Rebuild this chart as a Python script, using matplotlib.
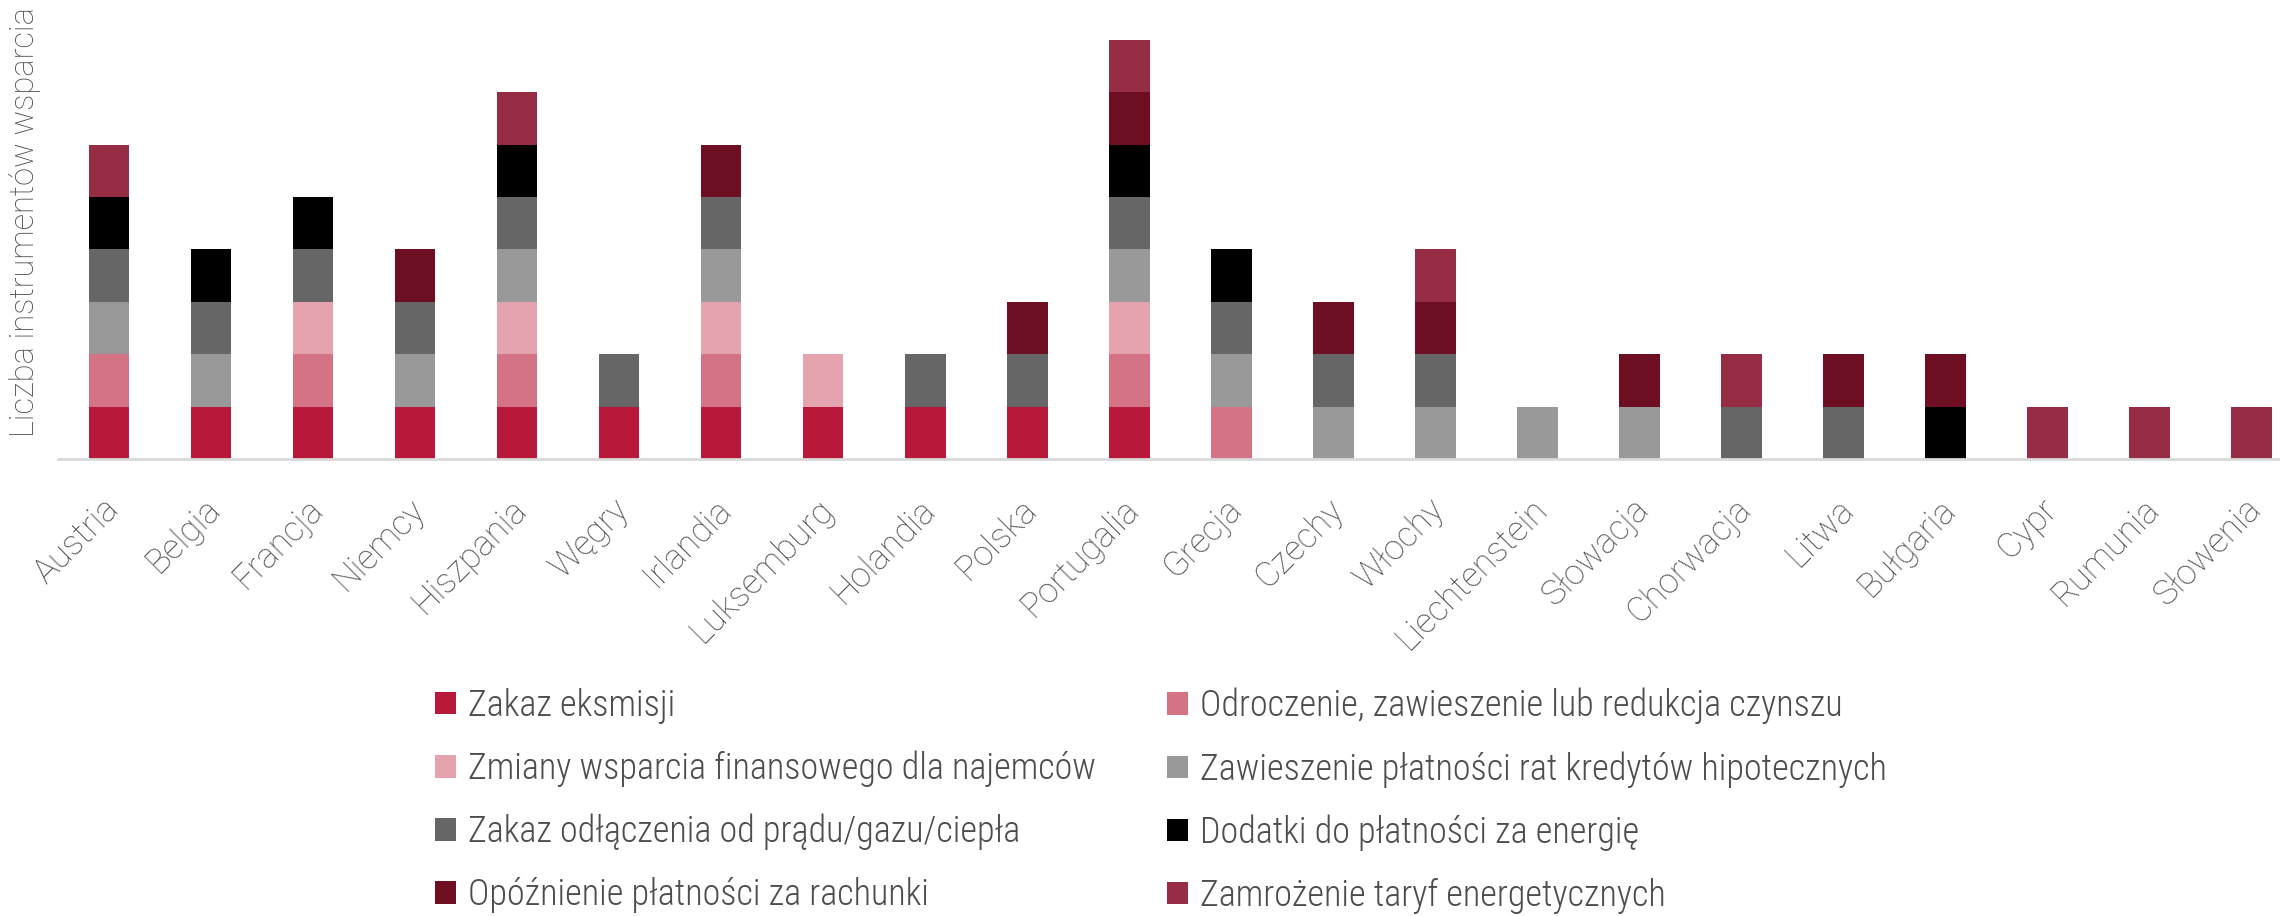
import numpy as np
import matplotlib
matplotlib.use("Agg")
import matplotlib.pyplot as plt
from matplotlib import font_manager
from matplotlib.patches import Patch
from matplotlib.transforms import ScaledTranslation

countries = ["Austria", "Belgia", "Francja", "Niemcy", "Hiszpania", "Węgry", "Irlandia",
             "Luksemburg", "Holandia", "Polska", "Portugalia", "Grecja", "Czechy", "Włochy",
             "Liechtenstein", "Słowacja", "Chorwacja", "Litwa", "Bułgaria", "Cypr",
             "Rumunia", "Słowenia"]

series_names = ["Zakaz eksmisji",
                "Odroczenie, zawieszenie lub redukcja czynszu",
                "Zmiany wsparcia finansowego dla najemców",
                "Zawieszenie płatności rat kredytów hipotecznych",
                "Zakaz odłączenia od prądu/gazu/ciepła",
                "Dodatki do płatności za energię",
                "Opóźnienie płatności za rachunki",
                "Zamrożenie taryf energetycznych"]

zakaz_eksmisji = [1, 1, 1, 1, 1, 1, 1, 1, 1, 1, 1, 0, 0, 0, 0, 0, 0, 0, 0, 0, 0, 0]
odroczenie     = [1, 0, 1, 0, 1, 0, 1, 0, 0, 0, 1, 1, 0, 0, 0, 0, 0, 0, 0, 0, 0, 0]
zmiany         = [0, 0, 1, 0, 1, 0, 1, 1, 0, 0, 1, 0, 0, 0, 0, 0, 0, 0, 0, 0, 0, 0]
zawieszenie    = [1, 1, 0, 1, 1, 0, 1, 0, 0, 0, 1, 1, 1, 1, 1, 1, 0, 0, 0, 0, 0, 0]
zakaz_odl      = [1, 1, 1, 1, 1, 1, 1, 0, 1, 1, 1, 1, 1, 1, 0, 0, 1, 1, 0, 0, 0, 0]
dodatki        = [1, 1, 1, 0, 1, 0, 0, 0, 0, 0, 1, 1, 0, 0, 0, 0, 0, 0, 1, 0, 0, 0]
opoznienie     = [0, 0, 0, 1, 0, 0, 1, 0, 0, 1, 1, 0, 1, 1, 0, 1, 0, 1, 1, 0, 0, 0]
zamrozenie     = [1, 0, 0, 0, 1, 0, 0, 0, 0, 0, 1, 0, 0, 1, 0, 0, 1, 0, 0, 1, 1, 1]

series = [zakaz_eksmisji, odroczenie, zmiany, zawieszenie, zakaz_odl, dodatki,
          opoznienie, zamrozenie]
colors = ["#B8183A", "#D47385", "#E4A3AF", "#999999", "#666666", "#000000",
          "#6D0E22", "#962D45"]

available = {f.name for f in font_manager.fontManager.ttflist}
base_font = "Roboto" if "Roboto" in available else "DejaVu Sans"
cond_font = "Roboto Condensed" if "Roboto Condensed" in available else base_font
plt.rcParams["font.family"] = [base_font, "DejaVu Sans"]

text_color = "#4D4D4D"

fig = plt.figure(figsize=(22.8, 9.16), dpi=100)
ax = fig.add_axes([0.0254, 0.499, 0.9746, 0.486])

x = np.arange(len(countries))
bottom = np.zeros(len(countries))
for vals, col, name in zip(series, colors, series_names):
    vals = np.array(vals, dtype=float)
    ax.bar(x, vals, width=0.4, bottom=bottom, color=col, label=name, linewidth=0)
    bottom += vals

ax.set_xlim(-0.5, 21.28)
ax.set_ylim(0, 8.5)
for s in ["top", "right", "left"]:
    ax.spines[s].set_visible(False)
ax.spines["bottom"].set_color("#D9D9D9")
ax.spines["bottom"].set_linewidth(2)
ax.set_yticks([])
ax.set_xticks(x)
ax.set_xticklabels(countries, rotation=45, ha="right", rotation_mode="anchor",
                   fontsize=25, color=text_color, fontweight="light")
ax.tick_params(axis="x", length=0, pad=24)
shift = ScaledTranslation(-7 / 100, 0, fig.dpi_scale_trans)
for lbl in ax.get_xticklabels():
    lbl.set_transform(lbl.get_transform() + shift)

fig.text(0.011, 0.758, "Liczba instrumentów wsparcia", rotation=90, ha="center",
         va="center", fontsize=23.5, color=text_color, fontweight="light")

handles = [Patch(facecolor=c, edgecolor="none") for c in colors]
left_idx = [0, 2, 4, 6]
right_idx = [1, 3, 5, 7]
for idx, xpos in [(left_idx, 0.191), (right_idx, 0.512)]:
    leg = fig.legend([handles[i] for i in idx], [series_names[i] for i in idx],
                     loc="upper left", bbox_to_anchor=(xpos, 0.249),
                     frameon=False, handlelength=0.58,
                     handleheight=0.58, handletextpad=0.33, labelspacing=0.74,
                     borderpad=0, borderaxespad=0,
                     prop={"family": [cond_font, "DejaVu Sans"], "size": 26,
                           "weight": "light"})
    for t in leg.get_texts():
        t.set_color(text_color)

fig.savefig("out.png", dpi=100, facecolor="white")
